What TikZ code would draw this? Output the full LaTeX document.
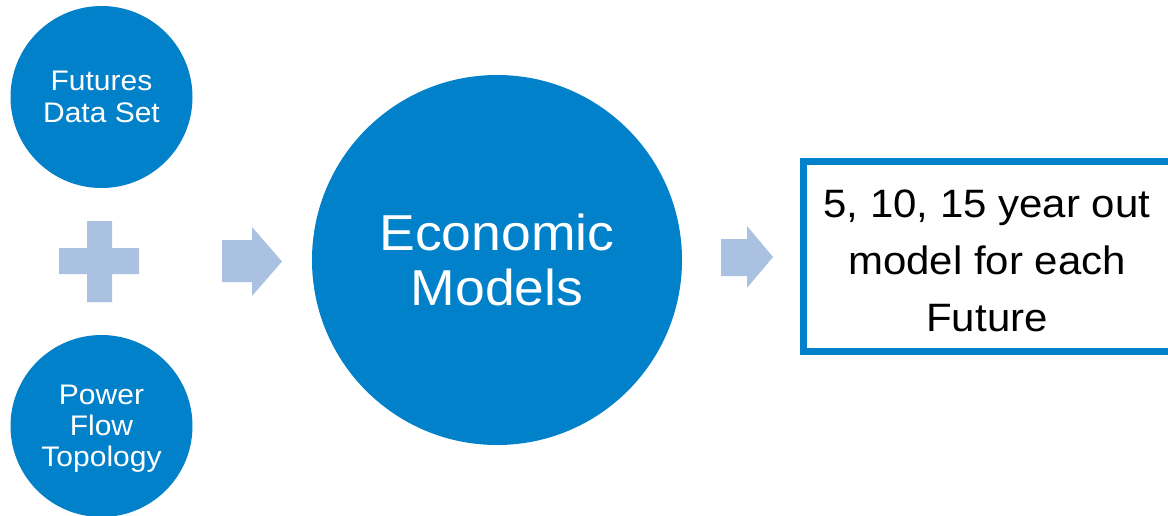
\documentclass[tikz,border=0pt]{standalone}
\usepackage{fontspec}
\setmainfont{Liberation Sans}
\newfontfamily\widesans[FakeStretch=1.06]{Liberation Sans}
\definecolor{discblue}{HTML}{0081C9}
\definecolor{paleblue}{HTML}{AAC1E1}
\tikzset{
  disc/.style={circle, fill=discblue, draw=none, inner sep=0pt, text=white,
    align=center, font=\widesans},
  block/.style={fill=paleblue, draw=none},
  outbox/.style={draw=discblue, line width=7pt, fill=white},
}
\begin{document}
\begin{tikzpicture}[x=1pt, y=-1pt]
  \useasboundingbox (0,0) rectangle (1168,515);
  \clip (0,0) rectangle (1168,515);
  \fill[white] (0,0) rectangle (1168,515);

  % input discs
  \node[disc, minimum size=182pt, font=\widesans\fontsize{28.3}{32}\selectfont]
    (data) at (101.5,97) {Futures\\Data Set};
  \node[disc, minimum size=182pt] (topo) at (101.5,426) {};
  \node[text=white, align=center, font=\widesans\fontsize{28.3}{31}\selectfont]
    (topotext) at (101.5,428.5) {Power\\Flow\\Topology};

  % plus sign between the inputs
  \path[block] (59,248) -- (87,248) -- (87,221) -- (112,221) -- (112,248)
    -- (139,248) -- (139,274) -- (112,274) -- (112,302) -- (87,302)
    -- (87,274) -- (59,274) -- cycle;
  \coordinate (plus) at (99,261);

  % first block arrow
  \path[block] (222,240) -- (252,240) -- (252,227) -- (282,261.5)
    -- (252,296) -- (252,282) -- (222,282) -- cycle;

  % central disc
  \node[disc, minimum size=370pt, font=\widesans\fontsize{50.5}{55}\selectfont]
    (econ) at (497,260) {Economic\\Models};

  % second block arrow
  \path[block] (721,239) -- (747,239) -- (747,226) -- (773,257)
    -- (747,288) -- (747,276) -- (721,276) -- cycle;

  % result box, running off the right edge
  \draw[outbox] (803.5,161.5) rectangle (1190,351.5);
  \node[align=center, font=\widesans\fontsize{39.6}{57}\selectfont]
    (result) at (987,261) {5, 10, 15 year out\\model for each\\Future};
\end{tikzpicture}
\end{document}
